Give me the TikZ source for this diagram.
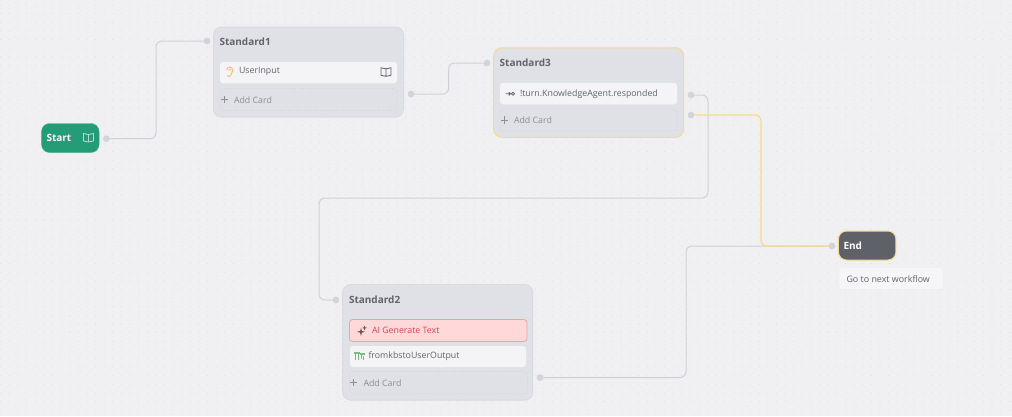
\documentclass[tikz,border=0pt]{standalone}
\usepackage{fontspec}
\setmainfont{Open Sans}
\definecolor{bgc}{HTML}{F0F0F3}
\definecolor{dotc}{HTML}{E0E0E5}
\definecolor{nodec}{HTML}{E0E1E6}
\definecolor{edgec}{HTML}{D0D0D9}
\definecolor{handlec}{HTML}{D2D3DB}
\definecolor{yel}{HTML}{F9D98C}
\definecolor{cardc}{HTML}{F4F4F7}
\definecolor{txt}{HTML}{62646B}
\definecolor{greyt}{HTML}{8C8E95}
\definecolor{startc}{HTML}{249C78}
\definecolor{endc}{HTML}{5F6168}
\definecolor{redf}{HTML}{FFD9D9}
\definecolor{redb}{HTML}{EFA3A8}
\definecolor{redt}{HTML}{D9444E}
\definecolor{boxb}{HTML}{DADBE1}
\definecolor{earc}{HTML}{F9C06A}
\definecolor{sparkc}{HTML}{7A4A55}
\definecolor{greenc}{HTML}{74BE7E}
\tikzset{
 x=1pt,y=-1pt,
 every node/.style={inner sep=0pt,outer sep=0pt},
 edge/.style={draw=edgec,line width=1pt,rounded corners=6pt},
 yedge/.style={draw=yel,line width=1.2pt,rounded corners=6pt},
 handle/.style={circle,fill=handlec,minimum size=6.8pt},
 box/.style={draw=#1,line width=1pt,fill=nodec,rounded corners=8pt},
 card/.style={fill=cardc,rounded corners=3pt},
 addc/.style={draw=handlec,dash pattern=on 1.2pt off 1.5pt,line width=.5pt,rounded corners=4pt},
 title/.style={anchor=west,font=\fontsize{10}{12}\selectfont\bfseries,text=txt},
 label/.style={anchor=west,font=\fontsize{8.8}{11}\selectfont,text=txt},
 addl/.style={anchor=west,font=\fontsize{8.8}{11}\selectfont,text=greyt},
 ic/.style={line width=.8pt,line cap=round,line join=round},
}
\newcommand{\bookicon}[3]{%
 \draw[ic,draw=#3] (#1-5,#2-4) -- (#1-5,#2+3.5) -- (#1,#2+4.5) -- (#1+5,#2+3.5) -- (#1+5,#2-4) -- (#1,#2-3) -- cycle (#1,#2-3) -- (#1,#2+4.5);}
\newcommand{\plusicon}[2]{%
 \draw[line width=.8pt,draw=greyt] (#1-3.6,#2) -- (#1+3.6,#2) (#1,#2-3.6) -- (#1,#2+3.6);}
\begin{document}
\begin{tikzpicture}
\useasboundingbox (0,0) rectangle (1012,416);
\fill[bgc] (0,0) rectangle (1012,416);
\foreach \i in {0,...,117}{\foreach \j in {0,...,48}{
  \fill[dotc] (0.7+\i*8.62,5+\j*8.62) circle (.6pt);}}
% ---- nodes
\node[box=boxb,minimum width=190pt,minimum height=90pt] (s1) at (308.5,72) {};
\node[box=yel,minimum width=190pt,minimum height=89.5pt] (s3) at (588.7,92.5) {};
\node[box=boxb,minimum width=190pt,minimum height=115.5pt] (s2) at (437.7,342.3) {};
\node[draw=startc!85!white,fill=startc,rounded corners=8pt,minimum width=57.5pt,minimum height=29pt] (start) at (70.3,138) {};
\node[draw=yel,line width=1pt,fill=endc,rounded corners=8pt,minimum width=57.5pt,minimum height=29pt] (endn) at (867.2,245.5) {};
\node[anchor=west,font=\fontsize{10}{12}\selectfont\bfseries,text=white] (startt) at (46.5,137.5) {Start};
\node[anchor=west,font=\fontsize{10}{12}\selectfont\bfseries,text=white] (endt) at (843.5,245.5) {End};
\bookicon{88.5}{137.5}{white!65!startc}
\node[fill=cardc!80!white,rounded corners=3pt,minimum width=103.5pt,minimum height=21pt] (go) at (891.2,278.5) {};
\node[label,font=\fontsize{8.9}{11}\selectfont] (got) at (846.5,278.7) {Go to next workflow};
% Standard1
\node[title] (s1t) at (219.5,41.5) {Standard1};
\node[card,minimum width=177pt,minimum height=21.5pt] (c1) at (308.5,72.5) {};
\node[label] (c1t) at (239,71.8) {UserInput};
\bookicon{386}{71.8}{txt}
\draw[ic,draw=earc,line width=1pt] (226.8,70) .. controls (226.6,66) and (232.8,66) .. (232.8,70.5) .. controls (232.8,72.5) and (230.8,73) .. (230.8,75) .. controls (230.8,77.3) and (228,77.3) .. (227.5,75.5);
\draw[ic,draw=earc,line width=.7pt] (228.8,70.5) .. controls (228.8,68.5) and (230.8,68.5) .. (230.8,70.3);
\node[addc,minimum width=177pt,minimum height=22pt] (a1) at (308.5,99.5) {};
\plusicon{224.5}{99.5}
\node[addl] (a1t) at (234,99.8) {Add Card};
% Standard3
\node[title] (s3t) at (499.7,62.5) {Standard3};
\node[card,minimum width=177pt,minimum height=21.5pt] (c3) at (588.5,93.5) {};
\node[label] (c3t) at (520,93.8) {!turn.KnowledgeAgent.responded};
\draw[ic,draw=txt] (506,93.8) -- (510.5,93.8) (509,92.3) -- (510.5,93.8) -- (509,95.3);
\draw[ic,draw=txt] (513,93.8) circle (1.6pt);
\node[addc,minimum width=177pt,minimum height=22pt] (a3) at (588.5,120) {};
\plusicon{504.5}{120}
\node[addl] (a3t) at (514,120) {Add Card};
% Standard2
\node[title] (s2t) at (349,299.5) {Standard2};
\node[draw=redb,fill=redf,line width=.8pt,rounded corners=3pt,minimum width=177.5pt,minimum height=22pt] (c2a) at (438.2,330.5) {};
\node[label,text=redt] (c2at) at (372,330.2) {AI Generate Text};
\fill[sparkc] (361,328) -- (361.9,331) -- (365,331.8) -- (361.9,332.6) -- (361,336) -- (360.1,332.6) -- (357,331.8) -- (360.1,331) -- cycle;
\fill[sparkc] (364.5,325.5) -- (365.1,327.3) -- (367,327.9) -- (365.1,328.5) -- (364.5,330.3) -- (363.9,328.5) -- (362,327.9) -- (363.9,327.3) -- cycle;
\node[card,minimum width=176pt,minimum height=21pt] (c2b) at (438,356.5) {};
\node[label] (c2bt) at (368.5,356) {fromkbstoUserOutput};
\draw[draw=greenc,line width=1.1pt] (354,353) -- (359.5,353) (355.8,353) -- (355.8,359.5) (358.3,353) -- (358.3,359.5) (360,354) -- (364.5,354) (361.8,354) -- (361.8,358.5) (363.8,356) -- (363.8,359.5);
\node[addc,minimum width=178pt,minimum height=22.5pt] (a2) at (438.5,382.7) {};
\plusicon{353.7}{382.8}
\node[addl] (a2t) at (363.5,382.8) {Add Card};
% handles
\node[handle] (hstart) at (106.5,138.7) {};
\node[handle] (h1in) at (207,41) {};
\node[handle] (h1out) at (411,94) {};
\node[handle] (h3in) at (487,63) {};
\node[handle] (h3a) at (691,95) {};
\node[handle] (h3b) at (691,115) {};
\node[handle] (h2in) at (336,300) {};
\node[handle] (h2out) at (540,377.5) {};
\node[handle] (hend) at (832,246) {};
\coordinate (b1) at (156,0);
\coordinate (b2) at (448.7,0);
\coordinate (b3) at (708,198);
\coordinate (b4) at (319,198);
\coordinate (b5) at (761,0);
\coordinate (b6) at (686,0);
\draw[edge] (hstart) -- (hstart -| b1) -- (h1in -| b1) -- (h1in);
\draw[edge] (h1out) -- (h1out -| b2) -- (h3in -| b2) -- (h3in);
\draw[edge] (h3a) -- (h3a -| b3) -- (b3) -- (b4) -- (h2in -| b4) -- (h2in);
\draw[edge] (h2out) -- (h2out -| b6) -- (hend -| b6) -- (hend);
\draw[yedge] (h3b) -- (h3b -| b5) -- (hend -| b5) -- (hend);
\end{tikzpicture}
\end{document}
